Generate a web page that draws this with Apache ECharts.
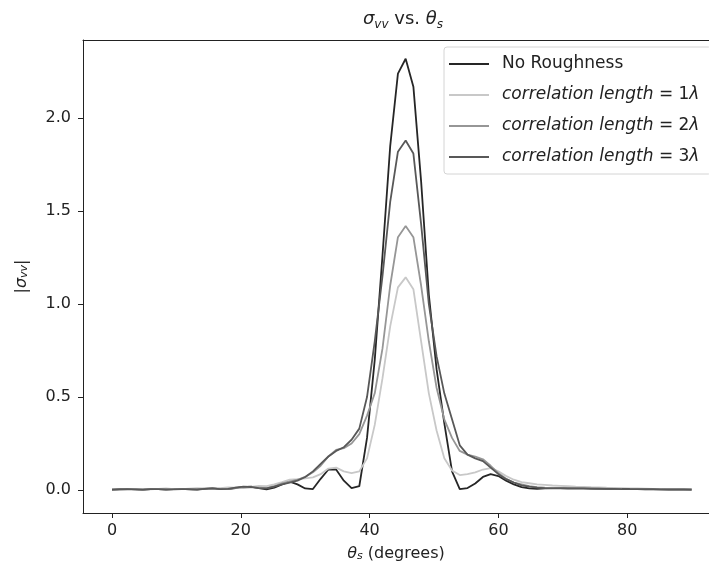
<!DOCTYPE html>
<html>
<head>
<meta charset="utf-8">
<script src="https://cdn.jsdelivr.net/npm/echarts@6/dist/echarts.min.js"></script>
<style>
  html, body { margin: 0; padding: 0; background: #fff; }
  #main { width: 709px; height: 573px; }
</style>
</head>
<body>
<div id="main"></div>
<script>
// scattering angle, degrees (sampled every 1.2 deg)
var angles = [0, 1.2, 2.4, 3.6, 4.8, 6, 7.2, 8.4, 9.6, 10.8,
    12, 13.2, 14.4, 15.6, 16.8, 18, 19.2, 20.4, 21.6, 22.8,
    24, 25.2, 26.4, 27.6, 28.8, 30, 31.2, 32.4, 33.6, 34.8,
    36, 37.2, 38.4, 39.6, 40.8, 42, 43.2, 44.4, 45.6, 46.8,
    48, 49.2, 50.4, 51.6, 52.8, 54, 55.2, 56.4, 57.6, 58.8,
    60, 61.2, 62.4, 63.6, 64.8, 66, 67.2, 68.4, 69.6, 70.8,
    72, 73.2, 74.4, 75.6, 76.8, 78, 79.2, 80.4, 81.6, 82.8,
    84, 85.2, 86.4, 87.6, 88.8, 90];

var noRough = [0.002, 0.004, 0.006, 0.003, 0.002, 0.005, 0.004, 0.002, 0.005, 0.006,
    0.003, 0.002, 0.006, 0.009, 0.005, 0.004, 0.010, 0.015, 0.018, 0.010,
    0.003, 0.012, 0.030, 0.045, 0.030, 0.008, 0.005, 0.060, 0.110, 0.110,
    0.050, 0.010, 0.020, 0.280, 0.700, 1.260, 1.850, 2.240, 2.320, 2.170,
    1.660, 1.050, 0.650, 0.360, 0.100, 0.005, 0.010, 0.035, 0.070, 0.085,
    0.075, 0.050, 0.030, 0.015, 0.008, 0.006, 0.008, 0.010, 0.010, 0.009,
    0.008, 0.008, 0.007, 0.006, 0.006, 0.005, 0.005, 0.004, 0.004, 0.003,
    0.003, 0.003, 0.002, 0.002, 0.002, 0.002];

var corr1 = [0.003, 0.002, 0.004, 0.006, 0.004, 0.003, 0.006, 0.008, 0.005, 0.004,
    0.007, 0.010, 0.008, 0.006, 0.010, 0.014, 0.012, 0.010, 0.016, 0.022,
    0.020, 0.030, 0.042, 0.055, 0.058, 0.062, 0.068, 0.085, 0.115, 0.120,
    0.100, 0.090, 0.100, 0.170, 0.350, 0.600, 0.880, 1.090, 1.144, 1.080,
    0.800, 0.520, 0.320, 0.170, 0.105, 0.080, 0.085, 0.095, 0.110, 0.118,
    0.100, 0.075, 0.055, 0.042, 0.036, 0.030, 0.027, 0.024, 0.022, 0.020,
    0.018, 0.017, 0.015, 0.014, 0.012, 0.011, 0.010, 0.009, 0.008, 0.007,
    0.006, 0.006, 0.005, 0.005, 0.004, 0.004];

var corr2 = [0.001, 0.003, 0.005, 0.004, 0.002, 0.004, 0.005, 0.003, 0.004, 0.006,
    0.004, 0.003, 0.007, 0.010, 0.006, 0.005, 0.012, 0.016, 0.014, 0.012,
    0.010, 0.020, 0.035, 0.045, 0.055, 0.070, 0.095, 0.130, 0.180, 0.215,
    0.225, 0.250, 0.300, 0.400, 0.520, 0.760, 1.100, 1.360, 1.420, 1.360,
    1.100, 0.800, 0.550, 0.380, 0.280, 0.210, 0.190, 0.180, 0.165, 0.130,
    0.090, 0.060, 0.040, 0.030, 0.020, 0.015, 0.012, 0.011, 0.010, 0.009,
    0.009, 0.008, 0.008, 0.007, 0.007, 0.006, 0.005, 0.005, 0.004, 0.004,
    0.004, 0.003, 0.003, 0.003, 0.003, 0.003];

var corr3 = [0.002, 0.003, 0.004, 0.003, 0.002, 0.004, 0.004, 0.003, 0.003, 0.005,
    0.004, 0.003, 0.006, 0.008, 0.005, 0.006, 0.012, 0.018, 0.016, 0.010,
    0.008, 0.018, 0.030, 0.040, 0.050, 0.070, 0.100, 0.140, 0.180, 0.210,
    0.230, 0.270, 0.330, 0.500, 0.800, 1.150, 1.550, 1.820, 1.880, 1.810,
    1.430, 1.000, 0.720, 0.520, 0.380, 0.240, 0.190, 0.170, 0.155, 0.120,
    0.085, 0.058, 0.040, 0.025, 0.018, 0.012, 0.010, 0.009, 0.009, 0.008,
    0.008, 0.008, 0.007, 0.007, 0.006, 0.006, 0.005, 0.005, 0.004, 0.004,
    0.004, 0.003, 0.003, 0.003, 0.003, 0.002];

var xTicks = [0, 20, 40, 60, 80];
var yTicks = [0, 0.5, 1.0, 1.5, 2.0];

var seriesNames = ['No Roughness', 'corr1', 'corr2', 'corr3'];
var legendText = {
    'No Roughness': 'No Roughness',
    'corr1': '{i|correlation length} = 1{i|λ}',
    'corr2': '{i|correlation length} = 2{i|λ}',
    'corr3': '{i|correlation length} = 3{i|λ}'
};
var lineColors = ['#262626', '#c8c8c8', '#969696', '#585858'];

function pairs(ys) {
    var out = [];
    for (var i = 0; i < angles.length; i++) {
        out.push([angles[i], ys[i]]);
    }
    return out;
}

var font = 'DejaVu Sans';
var ink = '#222';
var xMin = -4.5, xMax = 92.7;
var myChart = echarts.init(document.getElementById('main'));

var allData = [noRough, corr1, corr2, corr3];
var series = [];
for (var s = 0; s < allData.length; s++) {
    series.push({
        name: seriesNames[s],
        type: 'line',
        data: pairs(allData[s]),
        showSymbol: false,
        symbol: 'none',
        smooth: false,
        lineStyle: { color: lineColors[s], width: 1.8 },
        itemStyle: { color: lineColors[s] },
        z: 2 + s
    });
}

var option = {
    animation: false,
    textStyle: { fontFamily: font },
    title: {
        text: '{i|σ}{s|vv} vs. {i|θ}{s|s}',
        left: 398,
        top: 2,
        textAlign: 'center',
        textStyle: {
            fontFamily: font,
            fontSize: 18,
            fontWeight: 'normal',
            color: ink,
            lineHeight: 24,
            rich: {
                i: { fontFamily: font, fontSize: 18, fontStyle: 'italic', color: ink, lineHeight: 24 },
                s: { fontFamily: font, fontSize: 12, fontStyle: 'italic', color: ink, verticalAlign: 'bottom', lineHeight: 15 }
            }
        }
    },
    legend: {
        orient: 'vertical',
        left: 444,
        top: 47,
        width: 270,
        data: seriesNames,
        icon: 'rect',
        itemWidth: 40,
        itemHeight: 2,
        itemGap: 11,
        padding: [7, 12, 7, 5],
        backgroundColor: '#fff',
        borderColor: '#d4d4d4',
        borderWidth: 1,
        borderRadius: 3,
        formatter: function (name) { return legendText[name]; },
        textStyle: {
            fontFamily: font,
            fontSize: 17,
            color: ink,
            lineHeight: 20,
            padding: [0, 0, 0, 8],
            rich: {
                i: { fontFamily: font, fontSize: 17, fontStyle: 'italic', color: ink }
            }
        }
    },
    grid: {
        left: 83,
        top: 40,
        bottom: 60,
        right: 0,
        show: false
    },
    xAxis: [{
        type: 'value',
        min: xMin,
        max: xMax,
        name: '{i|θ}{s|s} (degrees)',
        nameLocation: 'middle',
        nameGap: 33,
        nameTextStyle: {
            fontFamily: font,
            fontSize: 16,
            color: ink,
            rich: {
                i: { fontFamily: font, fontSize: 16, fontStyle: 'italic', color: ink },
                s: { fontFamily: font, fontSize: 11, fontStyle: 'italic', color: ink, verticalAlign: 'bottom' }
            }
        },
        axisLine: { onZero: false, lineStyle: { color: ink, width: 1 } },
        axisTick: { show: true, inside: false, length: 5, customValues: xTicks, lineStyle: { color: ink } },
        axisLabel: { customValues: xTicks, fontFamily: font, fontSize: 16, color: ink, margin: 10 },
        splitLine: { show: false }
    }, {
        // top spine only
        type: 'value',
        position: 'top',
        min: xMin,
        max: xMax,
        axisLine: { show: true, onZero: false, lineStyle: { color: ink, width: 1 } },
        axisTick: { show: false },
        axisLabel: { show: false },
        splitLine: { show: false }
    }],
    yAxis: {
        type: 'value',
        min: -0.124,
        max: 2.421,
        name: '|{i|σ}{s|vv}|',
        nameLocation: 'middle',
        nameRotate: 90,
        nameGap: 53,
        nameTextStyle: {
            fontFamily: font,
            fontSize: 16,
            color: ink,
            rich: {
                i: { fontFamily: font, fontSize: 16, fontStyle: 'italic', color: ink },
                s: { fontFamily: font, fontSize: 11, fontStyle: 'italic', color: ink, verticalAlign: 'bottom' }
            }
        },
        axisLine: { show: true, onZero: false, lineStyle: { color: ink, width: 1 } },
        axisTick: { show: true, inside: false, length: 5, customValues: yTicks, lineStyle: { color: ink } },
        axisLabel: {
            customValues: yTicks,
            fontFamily: font,
            fontSize: 16,
            color: ink,
            margin: 12,
            formatter: function (v) { return v.toFixed(1); }
        },
        splitLine: { show: false }
    },
    series: series
};

myChart.setOption(option);
</script>
</body>
</html>
